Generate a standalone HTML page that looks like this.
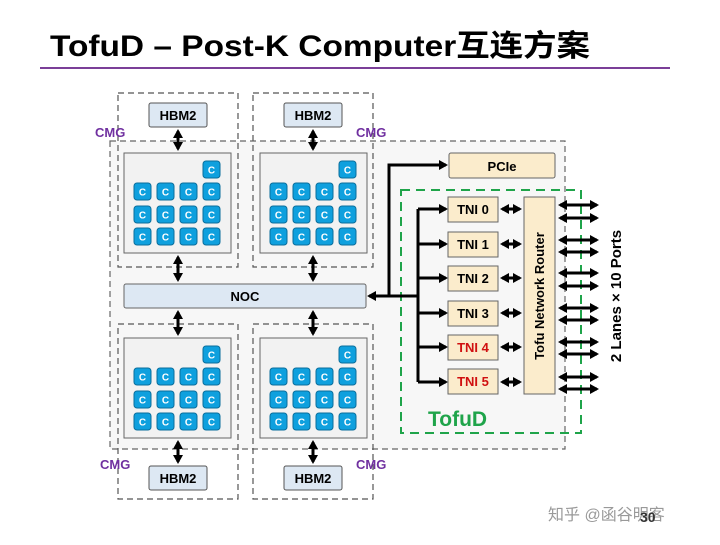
<!DOCTYPE html>
<html><head><meta charset="utf-8"><style>
body{margin:0;background:#fff}
svg text{font-family:"Liberation Sans","Noto Sans CJK SC",sans-serif}
</style></head><body>
<svg width="720" height="540" viewBox="0 0 720 540" xmlns="http://www.w3.org/2000/svg">
<defs>
<marker id="b" markerWidth="9" markerHeight="10" refX="7" refY="5" orient="auto-start-reverse" markerUnits="userSpaceOnUse"><path d="M0,0L9,5L0,10z" fill="#000"/></marker>
<g id="core"><rect width="17" height="17" rx="3" fill="#0fa0de" stroke="#0a6e9c" stroke-width="1"/><text x="8.5" y="12.5" font-size="10" font-weight="bold" fill="#fff" text-anchor="middle">C</text></g>
<g id="chip">
<rect x="0" y="0" width="107" height="100" fill="#f2f2f2" stroke="#666" stroke-width="1"/>
<use href="#core" x="79" y="8"/>
<use href="#core" x="10" y="30"/><use href="#core" x="33" y="30"/><use href="#core" x="56" y="30"/><use href="#core" x="79" y="30"/>
<use href="#core" x="10" y="53"/><use href="#core" x="33" y="53"/><use href="#core" x="56" y="53"/><use href="#core" x="79" y="53"/>
<use href="#core" x="10" y="75"/><use href="#core" x="33" y="75"/><use href="#core" x="56" y="75"/><use href="#core" x="79" y="75"/>
</g>
<g id="hbm"><rect width="58" height="24" rx="2" fill="#dde8f3" stroke="#555" stroke-width="1"/><text x="29" y="17" font-size="13" font-weight="bold" text-anchor="middle">HBM2</text></g>
</defs>

<text x="50" y="56" font-size="30" font-weight="bold" textLength="540" lengthAdjust="spacingAndGlyphs">TofuD – Post-K Computer互连方案</text>
<line x1="40" y1="68" x2="670" y2="68" stroke="#7b3f98" stroke-width="2"/>

<rect x="110" y="141" width="455" height="308" fill="#f7f7f7" stroke="#666" stroke-width="1.2" stroke-dasharray="6,4"/>
<g fill="none" stroke="#555" stroke-width="1.2" stroke-dasharray="6,4">
<rect x="118" y="93" width="120" height="174"/><rect x="253" y="93" width="120" height="174"/>
<rect x="118" y="324" width="120" height="175"/><rect x="253" y="324" width="120" height="175"/>
</g>
<g font-size="13" font-weight="bold" fill="#7030a0">
<text x="95" y="137">CMG</text><text x="356" y="137">CMG</text>
<text x="100" y="469">CMG</text><text x="356" y="469">CMG</text>
</g>

<use href="#hbm" x="149" y="103"/><use href="#hbm" x="284" y="103"/>
<use href="#hbm" x="149" y="466"/><use href="#hbm" x="284" y="466"/>
<use href="#chip" x="124" y="153"/><use href="#chip" x="260" y="153"/>
<use href="#chip" x="124" y="338"/><use href="#chip" x="260" y="338"/>

<rect x="124" y="284" width="242" height="24" rx="2" fill="#dde8f3" stroke="#666"/>
<text x="245" y="301" font-size="13" font-weight="bold" text-anchor="middle">NOC</text>

<g stroke="#000" stroke-width="3" marker-start="url(#b)" marker-end="url(#b)">
<line x1="178" y1="131" x2="178" y2="149"/><line x1="313" y1="131" x2="313" y2="149"/>
<line x1="178" y1="257" x2="178" y2="280"/><line x1="313" y1="257" x2="313" y2="280"/>
<line x1="178" y1="312" x2="178" y2="334"/><line x1="313" y1="312" x2="313" y2="334"/>
<line x1="178" y1="442" x2="178" y2="462"/><line x1="313" y1="442" x2="313" y2="462"/>
</g>

<rect x="401" y="190" width="180" height="243" fill="none" stroke="#1fa44a" stroke-width="2" stroke-dasharray="9,6"/>
<text x="428" y="426" font-size="21" font-weight="bold" fill="#1fa44a">TofuD</text>

<rect x="449" y="153" width="106" height="25" rx="2" fill="#fbeccc" stroke="#666"/>
<text x="502" y="171" font-size="13" font-weight="bold" text-anchor="middle">PCIe</text>

<g stroke="#000" stroke-width="3" fill="none">
<line x1="369" y1="296" x2="418" y2="296" marker-start="url(#b)"/>
<polyline points="389,296 389,165 446,165" marker-end="url(#b)"/>
<line x1="418" y1="209" x2="418" y2="382"/>
<g marker-end="url(#b)">
<line x1="418" y1="209" x2="446" y2="209"/><line x1="418" y1="244" x2="446" y2="244"/>
<line x1="418" y1="278" x2="446" y2="278"/><line x1="418" y1="313" x2="446" y2="313"/>
<line x1="418" y1="347" x2="446" y2="347"/><line x1="418" y1="382" x2="446" y2="382"/>
</g>
</g>

<g font-size="13" font-weight="bold" text-anchor="middle">
<rect x="448" y="197" width="50" height="25" fill="#fbeccc" stroke="#666"/><text x="473" y="214">TNI 0</text>
<rect x="448" y="232" width="50" height="25" fill="#fbeccc" stroke="#666"/><text x="473" y="249">TNI 1</text>
<rect x="448" y="266" width="50" height="25" fill="#fbeccc" stroke="#666"/><text x="473" y="283">TNI 2</text>
<rect x="448" y="301" width="50" height="25" fill="#fbeccc" stroke="#666"/><text x="473" y="318">TNI 3</text>
<rect x="448" y="335" width="50" height="25" fill="#fbeccc" stroke="#666"/><text x="473" y="352" fill="#d01010">TNI 4</text>
<rect x="448" y="369" width="50" height="25" fill="#fbeccc" stroke="#666"/><text x="473" y="386" fill="#d01010">TNI 5</text>
</g>

<rect x="524" y="197" width="31" height="197" fill="#fbeccc" stroke="#666"/>
<text transform="translate(544,296) rotate(-90)" font-size="13" font-weight="bold" text-anchor="middle">Tofu Network Router</text>

<g stroke="#000" stroke-width="3" marker-start="url(#b)" marker-end="url(#b)">
<line x1="502" y1="209" x2="520" y2="209"/><line x1="502" y1="244" x2="520" y2="244"/>
<line x1="502" y1="278" x2="520" y2="278"/><line x1="502" y1="313" x2="520" y2="313"/>
<line x1="502" y1="347" x2="520" y2="347"/><line x1="502" y1="382" x2="520" y2="382"/>
<line x1="560" y1="205" x2="597" y2="205"/><line x1="560" y1="218" x2="597" y2="218"/>
<line x1="560" y1="240" x2="597" y2="240"/><line x1="560" y1="252" x2="597" y2="252"/>
<line x1="560" y1="273" x2="597" y2="273"/><line x1="560" y1="286" x2="597" y2="286"/>
<line x1="560" y1="308" x2="597" y2="308"/><line x1="560" y1="320" x2="597" y2="320"/>
<line x1="560" y1="342" x2="597" y2="342"/><line x1="560" y1="354" x2="597" y2="354"/>
<line x1="560" y1="377" x2="597" y2="377"/><line x1="560" y1="389" x2="597" y2="389"/>
</g>
<text transform="translate(621,296) rotate(-90)" font-size="15" font-weight="bold" text-anchor="middle">2 Lanes × 10 Ports</text>

<text x="548" y="520" font-size="16" fill="#999">知乎 @函谷明客</text>
<text x="640" y="522" font-size="14" font-weight="bold" fill="#333">30</text>
</svg>
</body></html>
